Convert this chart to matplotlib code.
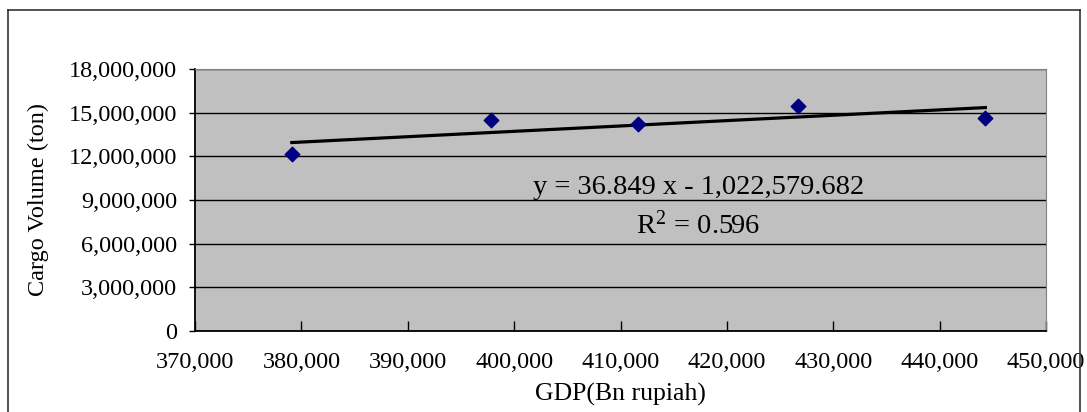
import matplotlib.pyplot as plt
import matplotlib.ticker as mticker
import numpy as np

# values
gdp = [379100, 397800, 411600, 426700, 444300]
cargo = [12150000, 14530000, 14200000, 15460000, 14650000]
slope = 36.849
intercept = -1022579.682
r2 = 0.596

plt.rcParams["font.family"] = ["Liberation Serif", "DejaVu Serif"]
plt.rcParams["mathtext.fontset"] = "stix"

fig = plt.figure(figsize=(10.87, 4.12), dpi=100)
ax = fig.add_axes([195 / 1087, 1 - 331 / 412, (1046 - 195) / 1087, (331 - 69) / 412])

# outer chart frame (bottom edge is cut off in the original)
fig.add_artist(plt.Line2D([8 / 1087, 8 / 1087], [0, 1 - 10 / 412], color="#333333", lw=1.2))
fig.add_artist(plt.Line2D([8 / 1087, 1080 / 1087], [1 - 10 / 412, 1 - 10 / 412], color="#333333", lw=1.2))
fig.add_artist(plt.Line2D([1080 / 1087, 1080 / 1087], [0, 1 - 10 / 412], color="#333333", lw=1.2))

ax.set_facecolor("#C0C0C0")
ax.set_xlim(370000, 450000)
ax.set_ylim(0, 18000000)
ax.set_xticks(np.arange(370000, 450001, 10000))
ax.set_yticks(np.arange(0, 18000001, 3000000))
fmt = mticker.FuncFormatter(lambda v, p: f"{v:,.0f}")
ax.xaxis.set_major_formatter(fmt)
ax.yaxis.set_major_formatter(fmt)

ax.yaxis.grid(True, color="black", lw=1)
ax.set_axisbelow(True)
ax.tick_params(axis="x", direction="in", length=7, width=1, labelsize=17.5, pad=15)
ax.tick_params(axis="y", direction="out", length=4, width=1, labelsize=17.5, pad=9)

for side in ["top", "right"]:
    ax.spines[side].set_color("#808080")
for side in ["left", "bottom"]:
    ax.spines[side].set_color("black")
    ax.spines[side].set_linewidth(1.3)

ax.scatter(gdp, cargo, marker="D", s=55, color="#000080", zorder=3)

xs = np.array([min(gdp), max(gdp)])
ax.plot(xs, slope * xs + intercept, color="black", lw=2.3, zorder=2)

ax.text(417300, 9850000, f"y = {slope:.3f} x - {-intercept:,.3f}", ha="center", va="center", fontsize=20.5)
ax.text(417300, 7300000, f"R$^{{\\mathregular{{2}}}}$ = {r2:.3f}", ha="center", va="center", fontsize=20.5)

ax.set_xlabel("GDP(Bn rupiah)", fontsize=18.5, labelpad=7)
ax.set_ylabel("Cargo Volume (ton)", fontsize=17.5, labelpad=14)

fig.savefig("out.png", dpi=100)
